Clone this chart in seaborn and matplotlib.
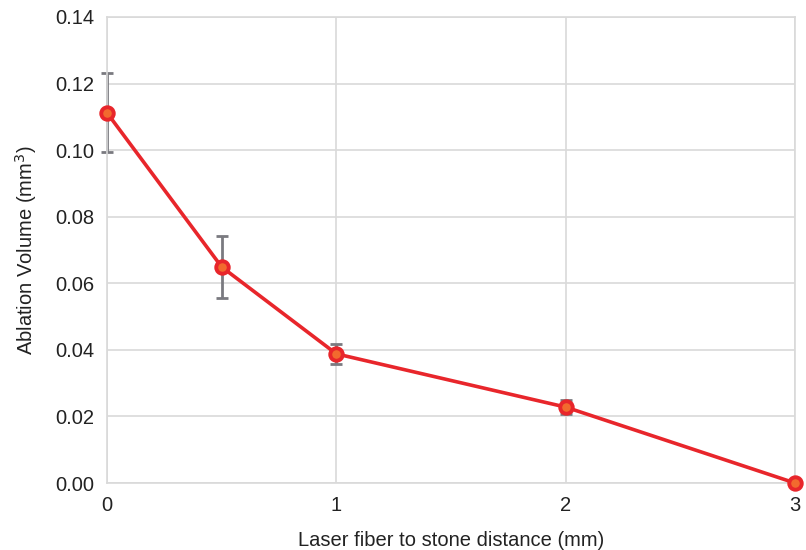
import matplotlib
matplotlib.use("Agg")
import matplotlib.pyplot as plt
import seaborn as sns
import pandas as pd

distance = [0, 0.5, 1, 2, 3]
volume = [0.1112, 0.0649, 0.0388, 0.0228, 0.0]
error = [0.0119, 0.0093, 0.0031, 0.0022, 0.0]
x_ticks = [0, 1, 2, 3]
y_ticks = [0.00, 0.02, 0.04, 0.06, 0.08, 0.10, 0.12, 0.14]

sns.set_theme(style="white")
plt.rcParams['font.family'] = ['Liberation Sans', 'DejaVu Sans']

df = pd.DataFrame({"distance": distance, "volume": volume, "error": error})

fig = plt.figure(figsize=(8.06, 5.5), dpi=100)
ax = fig.add_axes([0.1328, 0.1218, 0.8536, 0.8473])

eb = ax.errorbar(df["distance"], df["volume"], yerr=df["error"], fmt="none",
                 ecolor="#7a7a80", elinewidth=2, capsize=4, capthick=2, zorder=2)
for art in eb.lines[1] + eb.lines[2]:
    art.set_clip_on(False)
for art in eb.lines[2]:
    art.set_clip_on(False)
sns.lineplot(data=df, x="distance", y="volume", ax=ax, color="#e8262b",
             linewidth=2.6, marker="o", markersize=9,
             markerfacecolor="#f26a2e", markeredgecolor="#e8262b",
             markeredgewidth=2.8, zorder=3, clip_on=False)

ax.set_xlim(0, 3)
ax.set_ylim(0, 0.14)
ax.set_xticks(x_ticks)
ax.set_xticklabels([str(t) for t in x_ticks])
ax.set_yticks(y_ticks)
ax.set_yticklabels([f"{t:.2f}" for t in y_ticks])
ax.grid(True, color="#d9d9d9", linewidth=1.2)
ax.set_axisbelow(True)
for s in ax.spines.values():
    s.set_color("#d9d9d9")
    s.set_linewidth(1.2)
ax.tick_params(axis="both", length=0, labelsize=14.5, colors="#222222", pad=9)
ax.set_xlabel("Laser fiber to stone distance (mm)", fontsize=14.5, color="#222222", labelpad=12)
ax.set_ylabel("Ablation Volume (mm$^3$)", fontsize=14.5, color="#222222", labelpad=12)

fig.savefig("out.png", dpi=100)
